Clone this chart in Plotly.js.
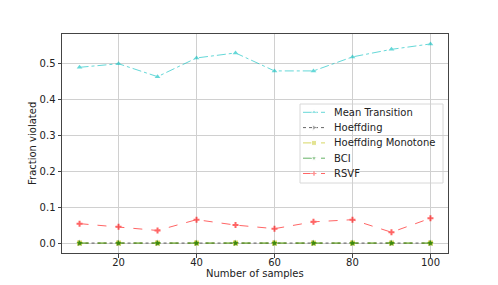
<!DOCTYPE html>
<html><head><meta charset="utf-8">
<script src="https://cdn.plot.ly/plotly-3.0.1.min.js"></script>
<style>html,body{margin:0;padding:0;background:#fff;}#chart{width:498px;height:285px;}</style>
</head><body><div id="chart"></div>
<script>
const samples = [10, 20, 30, 40, 50, 60, 70, 80, 90, 100];
const meanTransition = [0.489, 0.499, 0.463, 0.515, 0.529, 0.479, 0.479, 0.518, 0.539, 0.554];
const hoeffding = [0, 0, 0, 0, 0, 0, 0, 0, 0, 0];
const hoeffdingMonotone = [0, 0, 0, 0, 0, 0, 0, 0, 0, 0];
const bci = [0, 0, 0, 0, 0, 0, 0, 0, 0, 0];
const rsvf = [0.054, 0.045, 0.035, 0.065, 0.050, 0.040, 0.059, 0.065, 0.030, 0.069];
const seriesNames = ['Mean Transition', 'Hoeffding', 'Hoeffding Monotone', 'BCI', 'RSVF'];
const yTicks = [0, 0.1, 0.2, 0.3, 0.4, 0.5];
const xTicks = [20, 40, 60, 80, 100];
const xTitle = 'Number of samples';
const yTitle = 'Fraction violated';

const styles = [
  {color: '#00bfbf', dash: 'dashdot', symbol: 'triangle-up', size: 5},
  {color: '#000000', dash: 'dot', symbol: 'triangle-right', size: 5},
  {color: '#bfbf00', dash: 'dash', symbol: 'square', size: 5},
  {color: '#008000', dash: 'dash', symbol: 'star', size: 5},
  {color: '#ff0000', dash: 'dash', symbol: 'cross', size: 5}
];
const values = [meanTransition, hoeffding, hoeffdingMonotone, bci, rsvf];

const data = values.map((y, i) => ({
  x: samples, y: y, name: seriesNames[i], type: 'scatter', mode: 'lines+markers',
  opacity: 0.6, showlegend: false,
  line: {color: styles[i].color, width: 1, dash: styles[i].dash},
  marker: {color: styles[i].color, symbol: styles[i].symbol, size: styles[i].size}
}));

// custom legend (matplotlib-like compact spacing), in plot-area fractions
const plotL = 62, plotR = 448, plotT = 34, plotB = 253;
const fx = px => (px - plotL) / (plotR - plotL);
const fy = py => (plotB - py) / (plotB - plotT);
const legTop = 104, legBottom = 183, legLeft = 300, legRight = 443;
const rowStart = 112.3, rowStep = 15.3;
const txtFont = {family: 'DejaVu Sans', size: 10, color: '#222'};
const annotations = [];
seriesNames.forEach((name, i) => {
  const py = rowStart + i * rowStep;
  data.push({
    x: [fx(303), fx(314), fx(325)], y: [fy(py), fy(py), fy(py)],
    xaxis: 'x2', yaxis: 'y2', type: 'scatter', mode: 'lines+markers',
    opacity: 0.6, showlegend: false, hoverinfo: 'skip',
    line: {color: styles[i].color, width: 1, dash: styles[i].dash},
    marker: {color: styles[i].color, symbol: styles[i].symbol, size: [0, styles[i].size, 0]}
  });
  annotations.push({xref: 'paper', yref: 'paper', x: fx(332), y: fy(py),
    xanchor: 'left', yanchor: 'middle', text: name, showarrow: false, font: txtFont});
});
// axis titles
annotations.push({xref: 'paper', yref: 'paper', x: 0.5, y: 0, xanchor: 'center', yanchor: 'middle',
  yshift: -20, text: xTitle, showarrow: false, font: txtFont});
annotations.push({xref: 'paper', yref: 'paper', x: 0, y: 0.5, xanchor: 'center', yanchor: 'middle',
  xshift: -29.5, textangle: -90, text: yTitle, showarrow: false, font: txtFont});

const axisCommon = {showline: true, mirror: true, linecolor: '#444', linewidth: 1,
  showgrid: true, gridcolor: '#d0d0d0', gridwidth: 1, zeroline: false,
  ticks: 'outside', ticklen: 3.5, tickcolor: '#444',
  tickfont: txtFont};
const layout = {
  width: 498, height: 285,
  margin: {l: plotL, r: 498 - plotR, t: plotT, b: 285 - plotB},
  paper_bgcolor: '#fff', plot_bgcolor: '#fff',
  font: txtFont,
  xaxis: Object.assign({}, axisCommon, {range: [5.5, 104.5], tickvals: xTicks, ticklabelstandoff: -4}),
  yaxis: Object.assign({}, axisCommon, {range: [-0.0277, 0.5817], tickvals: yTicks, tickformat: '.1f'}),
  xaxis2: {overlaying: 'x', range: [0, 1], visible: false, fixedrange: true},
  yaxis2: {overlaying: 'y', range: [0, 1], visible: false, fixedrange: true},
  showlegend: false,
  shapes: [{type: 'rect', xref: 'paper', yref: 'paper', layer: 'between',
    x0: fx(legLeft), x1: fx(legRight), y0: fy(legBottom), y1: fy(legTop),
    fillcolor: 'rgba(255,255,255,0.8)', line: {color: '#d8d8d8', width: 1}}],
  annotations: annotations
};
Plotly.newPlot('chart', data, layout, {displayModeBar: false, staticPlot: true});
</script></body></html>
